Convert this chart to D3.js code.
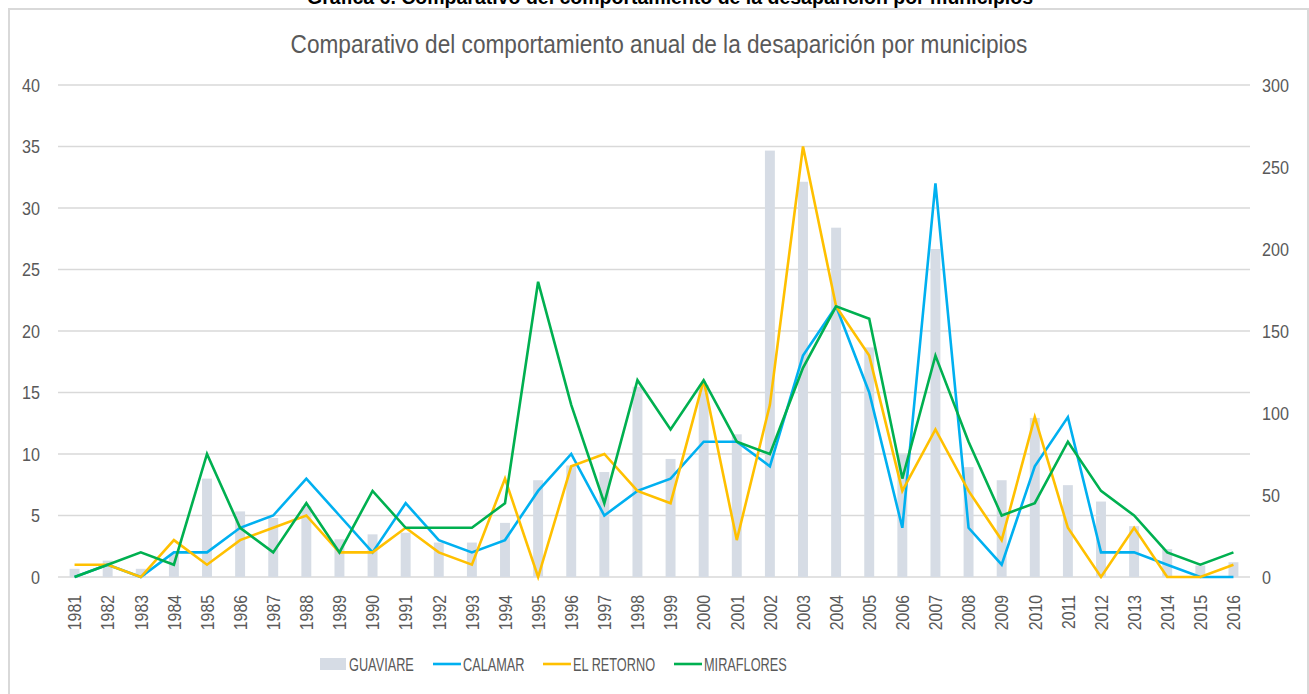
<!DOCTYPE html>
<html>
<head>
<meta charset="utf-8">
<script src="https://cdn.jsdelivr.net/npm/d3@7"></script>
<style>
  body { margin: 0; background: #fff; }
  svg text { font-family: "Liberation Sans", Arial, sans-serif; fill: #595959; }
</style>
</head>
<body>
<svg width="1309" height="694"></svg>
<script>
var years = d3.range(1981, 2017).map(String);
// GUAVIARE total (right axis)
var guaviare = [5, 10, 5, 14, 60, 40, 36, 43, 23, 26, 27, 21, 21, 33, 59, 68, 64, 116, 72, 117,
                87, 260, 241, 213, 140, 75, 200, 67, 59, 97, 56, 46, 31, 17, 7, 9];
var calamar = [0, 1, 0, 2, 2, 4, 5, 8, 5, 2, 6, 3, 2, 3, 7, 10, 5, 7, 8, 11,
               11, 9, 18, 22, 15, 4, 32, 4, 1, 9, 13, 2, 2, 1, 0, 0];
var elRetorno = [1, 1, 0, 3, 1, 3, 4, 5, 2, 2, 4, 2, 1, 8, 0, 9, 10, 7, 6, 16,
                 3, 14, 35, 22, 18, 7, 12, 7, 3, 13, 4, 0, 4, 0, 0, 1];
var miraflores = [0, 1, 2, 1, 10, 4, 2, 6, 2, 7, 4, 4, 4, 6, 24, 14, 6, 16, 12, 16,
                  11, 10, 17, 22, 21, 8, 18, 11, 5, 6, 11, 7, 5, 2, 1, 2];
var leftTicks = [0, 5, 10, 15, 20, 25, 30, 35, 40];
var rightTicks = [0, 50, 100, 150, 200, 250, 300];

var svg = d3.select("svg");
var pLeft = 58, pRight = 1250, pTop = 85, pBottom = 577;

var x = d3.scaleBand().domain(years).range([pLeft, pRight]).paddingInner(0.7).paddingOuter(0.35);
var xp = d3.scalePoint().domain(years).range([pLeft, pRight]).padding(0.5);
var yL = d3.scaleLinear().domain([0, 40]).range([pBottom, pTop]);
var yR = d3.scaleLinear().domain([0, 300]).range([pBottom, pTop]);

// squeeze text to look like the narrow font of the original
function condense(sel, k) {
  sel.each(function() {
    var len = this.getComputedTextLength();
    d3.select(this).attr("textLength", len * k).attr("lengthAdjust", "spacingAndGlyphs");
  });
}

// heading (cut at top)
svg.append("text")
  .attr("x", 670).attr("y", 4)
  .attr("text-anchor", "middle")
  .style("font-weight", "bold").style("font-size", "19.5px").style("fill", "#000")
  .text("Gráfica 6. Comparativo del comportamiento de la desaparición por municipios");

// chart frame
svg.append("rect")
  .attr("x", 9).attr("y", 9).attr("width", 1299).attr("height", 700)
  .attr("fill", "none").attr("stroke", "#d9d9d9").attr("stroke-width", 2);

svg.append("text")
  .attr("x", 659).attr("y", 53)
  .attr("text-anchor", "middle")
  .style("font-size", "26px")
  .text("Comparativo del comportamiento anual de la desaparición por municipios")
  .call(condense, 0.87);

// grid
svg.append("g")
  .selectAll("line")
  .data(leftTicks)
  .enter().append("line")
  .attr("x1", pLeft).attr("x2", pRight)
  .attr("y1", function(d) { return yL(d); })
  .attr("y2", function(d) { return yL(d); })
  .attr("stroke", "#d9d9d9").attr("stroke-width", 1.5);

// left axis
var axL = svg.append("g")
  .attr("transform", "translate(" + (pLeft - 18) + ",0)")
  .call(d3.axisLeft(yL).tickValues(leftTicks).tickSize(0).tickPadding(0));
axL.select(".domain").remove();
axL.selectAll("text").style("font-size", "19px").style("fill", "#595959").call(condense, 0.85);

// right axis
var axR = svg.append("g")
  .attr("transform", "translate(" + (pRight + 12) + ",0)")
  .call(d3.axisRight(yR).tickValues(rightTicks).tickSize(0).tickPadding(0));
axR.select(".domain").remove();
axR.selectAll("text").style("font-size", "19px").style("fill", "#595959").call(condense, 0.85);

// x axis
var axX = svg.append("g")
  .attr("transform", "translate(0," + (pBottom + 10) + ")")
  .call(d3.axisBottom(xp).tickSize(0).tickPadding(0));
axX.select(".domain").remove();
axX.selectAll("text")
  .style("font-size", "18px")
  .style("fill", "#595959")
  .attr("text-anchor", "end")
  .attr("x", -8)
  .attr("y", 0)
  .attr("dy", "0.35em")
  .attr("transform", "rotate(-90)")
  .call(condense, 0.88);

// bars
svg.append("g")
  .selectAll("rect")
  .data(guaviare)
  .enter().append("rect")
  .attr("x", function(d, i) { return x(years[i]); })
  .attr("width", x.bandwidth())
  .attr("y", function(d) { return yR(d); })
  .attr("height", function(d) { return pBottom - yR(d); })
  .attr("fill", "#d6dce5");

var series = [
  {name: "CALAMAR", values: calamar, color: "#00b0f0"},
  {name: "EL RETORNO", values: elRetorno, color: "#ffc000"},
  {name: "MIRAFLORES", values: miraflores, color: "#00b050"}
];

var line = d3.line()
  .x(function(d, i) { return xp(years[i]); })
  .y(function(d) { return yL(d); });

svg.append("g")
  .selectAll("path")
  .data(series)
  .enter().append("path")
  .attr("d", function(d) { return line(d.values); })
  .attr("fill", "none")
  .attr("stroke", function(d) { return d.color; })
  .attr("stroke-width", 2.6)
  .attr("stroke-linejoin", "miter");

// legend
var legend = svg.append("g").attr("transform", "translate(0,664)");
legend.append("rect")
  .attr("x", 320).attr("y", -6).attr("width", 26).attr("height", 12)
  .attr("fill", "#d6dce5");
legend.append("text").attr("x", 349).attr("y", 0).attr("dy", "0.35em")
  .style("font-size", "19px").text("GUAVIARE");

var legX = [433, 543, 674];
series.forEach(function(s, i) {
  legend.append("line")
    .attr("x1", legX[i]).attr("x2", legX[i] + 28)
    .attr("stroke", s.color).attr("stroke-width", 2.6);
  legend.append("text").attr("x", legX[i] + 30).attr("y", 0).attr("dy", "0.35em")
    .style("font-size", "19px").text(s.name);
});
legend.selectAll("text").call(condense, 0.67);
</script>
</body>
</html>
